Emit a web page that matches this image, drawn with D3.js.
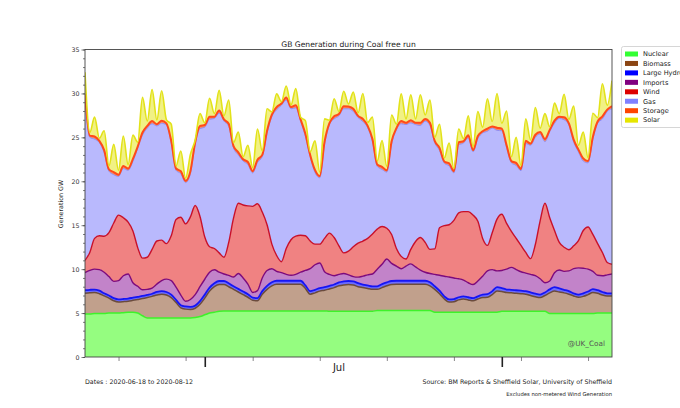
<!DOCTYPE html>
<html><head><meta charset="utf-8">
<script src="https://cdn.jsdelivr.net/npm/d3@7"></script>
<style>body{margin:0;background:#fff}svg{display:block}text{font-family:"DejaVu Sans",sans-serif;fill:#222}</style>
</head><body><svg id="c" width="680" height="408"></svg>
<script>
// ---- data: half-daily samples (12:00 and 00:00 UTC) starting 2020-06-18 12:00 ----
const startTime = "2020-06-18T12:00:00Z";
const stepHours = 12;
const seriesNames = ["Nuclear","Biomass","Large Hydro","Imports","Wind","Gas","Storage","Solar"];
const nuclear = [4.9,4.9,4.95,4.95,4.95,5.0,5.0,5.0,5.05,5.1,
5.1,5.0,4.7,4.45,4.45,4.45,4.45,4.45,4.45,4.45,
4.45,4.45,4.45,4.5,4.6,4.8,5.0,5.1,5.2,5.25,
5.25,5.25,5.25,5.25,5.25,5.25,5.25,5.25,5.25,5.25,
5.25,5.25,5.25,5.25,5.25,5.25,5.25,5.25,5.25,5.25,
5.25,5.2,5.2,5.2,5.2,5.2,5.2,5.2,5.2,5.2,
5.2,5.3,5.3,5.3,5.3,5.3,5.3,5.3,5.3,5.3,
5.3,5.3,5.3,5.1,5.1,5.1,5.1,5.1,5.1,5.1,
5.1,5.1,5.1,5.1,5.1,5.1,5.1,5.2,5.2,5.2,
5.2,5.2,5.2,5.2,5.2,5.2,5.2,4.95,4.95,4.95,
4.95,4.95,4.95,4.95,4.95,4.95,4.95,5.0,5.0,5.0,
5.0];
const biomass = [2.35,2.4,2.38,2.25,2.0,1.7,1.4,1.27,1.25,1.25,
1.35,1.55,1.95,2.32,2.45,2.6,2.7,2.6,2.3,1.75,
1.15,1.0,0.95,1.05,1.4,1.9,2.5,2.9,3.05,3.0,
2.75,2.45,2.15,1.85,1.55,1.2,1.15,1.9,2.45,2.85,
3.03,3.03,3.03,3.03,3.03,3.03,2.55,1.9,2.05,2.25,
2.35,2.55,2.7,2.9,3.0,3.05,3.0,2.8,2.7,2.6,
2.5,2.4,2.6,2.8,2.95,2.98,2.98,2.98,2.98,2.98,
2.98,2.98,2.8,2.6,2.1,1.5,1.15,1.2,1.4,1.5,
1.4,1.3,1.5,1.66,1.7,2.0,2.4,2.25,2.13,2.1,
2.05,2.0,1.95,1.8,1.65,1.56,1.8,2.35,2.55,2.45,
2.35,2.2,2.0,1.85,1.95,2.15,2.38,2.25,2.05,1.95,
1.95];
const hydro = [0.35,0.35,0.35,0.35,0.3,0.3,0.3,0.3,0.3,0.3,
0.3,0.3,0.3,0.3,0.3,0.35,0.35,0.35,0.35,0.3,
0.3,0.3,0.3,0.3,0.35,0.4,0.4,0.4,0.4,0.4,
0.4,0.35,0.35,0.35,0.35,0.3,0.3,0.35,0.4,0.4,
0.4,0.4,0.4,0.4,0.4,0.4,0.35,0.35,0.35,0.35,
0.35,0.35,0.35,0.4,0.4,0.4,0.4,0.4,0.35,0.35,
0.35,0.35,0.4,0.4,0.4,0.4,0.4,0.4,0.4,0.4,
0.4,0.4,0.4,0.35,0.35,0.3,0.3,0.3,0.3,0.3,
0.3,0.3,0.3,0.35,0.35,0.4,0.45,0.4,0.35,0.35,
0.35,0.35,0.35,0.35,0.35,0.35,0.35,0.4,0.45,0.4,
0.35,0.35,0.3,0.3,0.35,0.35,0.4,0.35,0.35,0.3,
0.3];
const imports = [2.0,2.2,2.32,2.4,2.4,2.15,1.91,2.13,2.65,2.8,
1.7,1.2,0.7,0.63,0.65,0.9,1.2,1.46,1.6,1.45,
1.15,0.6,0.85,1.25,1.65,1.75,1.75,1.53,1.0,0.8,
0.89,1.05,1.75,1.55,1.15,0.6,0.85,1.5,1.75,1.55,
1.07,0.92,0.72,0.62,0.72,0.97,1.7,2.55,2.85,2.85,
1.75,1.3,1.0,0.9,0.9,0.7,0.55,0.69,0.95,1.2,
1.4,1.95,2.25,2.65,2.0,1.67,1.37,1.67,1.92,1.57,
1.22,0.97,1.0,1.35,1.75,2.29,2.55,2.39,2.1,1.85,
1.65,1.55,1.75,2.09,2.65,2.45,1.85,2.0,2.32,2.55,
2.35,2.15,2.05,2.05,2.05,1.79,1.1,0.95,1.65,2.1,
2.1,2.3,2.8,3.05,2.85,2.55,2.02,1.7,1.85,2.1,
2.2];
const wind = [1.4,2.05,3.5,3.85,4.1,5.0,6.64,7.45,6.6,5.9,
5.9,4.4,3.6,3.65,4.4,4.9,4.6,4.04,5.1,7.7,
8.85,8.8,9.4,10.15,8.0,4.8,2.9,2.42,2.2,1.9,
3.76,6.7,8.0,8.3,8.9,9.8,9.9,7.5,5.2,2.8,
1.8,1.25,2.95,4.05,4.35,4.2,3.95,3.15,2.35,2.15,
3.8,4.7,4.35,3.25,2.35,2.7,3.4,3.86,4.0,4.15,
4.55,4.55,4.3,3.5,3.3,2.0,1.4,0.8,1.65,2.9,
3.7,3.4,2.75,2.9,5.4,5.76,5.95,6.56,7.5,7.8,
8.1,7.9,6.8,4.3,2.9,4.2,5.9,6.4,5.2,4.1,
3.55,3.0,2.35,1.8,3.55,6.6,9.05,7.2,4.8,3.15,
2.75,2.4,2.6,3.1,4.3,4.8,4.2,3.6,2.65,1.4,
1.1];
const gas = [18.6,13.1,11.3,10.6,9.5,7.0,5.5,4.4,5.6,5.9,
7.9,11.3,14.0,14.7,14.3,13.1,13.3,13.5,10.5,5.6,
4.95,4.7,4.9,7.0,10.0,12.5,14.5,14.8,15.9,15.5,
13.2,8.0,5.5,5.0,4.7,3.8,4.7,6.3,10.4,14.5,
16.6,17.8,16.9,14.9,14.6,13.0,11.3,9.6,8.15,7.55,
10.7,12.3,13.5,14.8,16.4,16.2,15.4,14.3,13.6,12.6,
10.5,7.15,6.5,6.4,10.3,13.5,15.1,15.3,14.4,13.3,
12.75,13.8,14.1,12.1,8.8,7.1,6.7,5.4,7.75,7.8,
8.4,7.2,9.4,12.0,13.0,11.9,10.1,9.5,8.6,7.8,
8.3,8.5,12.4,12.9,12.2,9.9,7.0,9.8,12.2,14.1,
14.5,14.2,11.8,10.1,7.9,7.3,10.8,13.7,15.2,17.2,
17.7];
const storage = [0.3,0.2,0.3,0.2,0.3,0.2,0.3,0.2,0.3,0.2,
0.3,0.2,0.3,0.25,0.3,0.2,0.3,0.2,0.3,0.2,
0.3,0.2,0.3,0.2,0.3,0.25,0.3,0.2,0.3,0.2,
0.3,0.2,0.3,0.2,0.3,0.2,0.3,0.2,0.3,0.25,
0.3,0.2,0.3,0.2,0.3,0.2,0.3,0.2,0.3,0.2,
0.3,0.2,0.3,0.2,0.3,0.25,0.3,0.2,0.3,0.2,
0.3,0.2,0.3,0.2,0.3,0.2,0.3,0.2,0.3,0.2,
0.3,0.25,0.3,0.2,0.3,0.2,0.3,0.2,0.3,0.2,
0.3,0.2,0.3,0.2,0.3,0.2,0.3,0.25,0.3,0.2,
0.3,0.2,0.3,0.2,0.3,0.2,0.3,0.2,0.3,0.2,
0.3,0.2,0.3,0.25,0.3,0.2,0.3,0.2,0.3,0.2,
0.3];
const solar = [2.5,0.35,2.2,0.3,2.2,0.4,3.15,0.5,3.4,0.45,
2.7,0.5,4.0,0.55,3.6,0.5,3.4,0.4,1.9,0.3,
2.3,0.3,1.9,0.25,1.4,0.25,2.1,0.35,2.3,0.4,
2.7,0.4,2.3,0.3,1.9,0.4,3.5,0.45,2.5,0.3,
1.5,0.2,1.3,0.25,1.9,0.25,1.5,0.35,3.3,0.45,
2.6,0.35,2.0,0.3,1.7,0.3,1.9,0.35,2.9,0.4,
2.5,0.4,3.0,0.45,3.0,0.45,3.1,0.45,2.9,0.45,
3.2,0.45,2.6,0.4,2.7,0.4,2.3,0.3,1.5,0.3,
2.2,0.4,2.8,0.45,3.4,0.55,3.9,0.6,3.9,0.5,
2.9,0.4,2.5,0.4,3.1,0.45,2.9,0.35,2.0,0.35,
2.6,0.45,3.8,0.5,3.0,0.4,2.7,0.45,3.7,0.5,
2.9];
const yTickLabels = [0,5,10,15,20,25,30,35];
const monthLabels = [{date:"2020-07-15T00:00:00Z", label:"Jul"}];
const fillColors = ["#95fd80","#c1a08c","#6d6dfd","#c283c9","#f08282","#b9b9fd","#ff8a5c","#f1f184"];
const lineColors = ["#3ef22a","#6b4b3c","#1515f5","#7d0a7d","#c8102a","#8c8cf5","#ff4a1a","#e2e21a"];
const legendColors = ["#33ff33","#8b4513","#0000ff","#800080","#dd0000","#8080ff","#ff4500","#e6e600"];
const lineWidths = [1.5,1.5,1.8,1.4,1.4,1.0,2.0,1.6];

const cols = [nuclear,biomass,hydro,imports,wind,gas,storage,solar];
const n = d3.min(cols, c => c.length);
const t0 = new Date(startTime);
const rows = d3.range(n).map(i => {
  const r = {time: d3.utcHour.offset(t0, i*stepHours)};
  seriesNames.forEach((k,j) => r[k] = cols[j][i]);
  return r;
});

const svg = d3.select("#c");
const L=85, R=612, T=49.5, B=357;
const x = d3.scaleUtc().domain([rows[0].time, rows[n-1].time]).range([L,R]);
const y = d3.scaleLinear().domain([0,35]).range([B,T]);

const stacked = d3.stack().keys(seriesNames)(rows);
const area = d3.area().curve(d3.curveMonotoneX)
  .x(d => x(d.data.time)).y0(d => y(d[0])).y1(d => y(d[1]));
const line = d3.line().curve(d3.curveMonotoneX)
  .x(d => x(d.data.time)).y(d => y(d[1]));

svg.append("defs").append("clipPath").attr("id","pc")
  .append("rect").attr("x",L).attr("y",T).attr("width",R-L).attr("height",B-T);
const g = svg.append("g").attr("clip-path","url(#pc)");
stacked.forEach((s,j) => {
  g.append("path").attr("d", area(s)).attr("fill", fillColors[j]);
});
stacked.forEach((s,j) => {
  g.append("path").attr("d", line(s)).attr("fill","none")
   .attr("stroke", lineColors[j]).attr("stroke-width", lineWidths[j]).attr("stroke-linejoin","round");
});

// frame
svg.append("rect").attr("x",L).attr("y",T).attr("width",R-L).attr("height",B-T)
  .attr("fill","none").attr("stroke","#444").attr("stroke-width",0.9);

// y axis
const yAx = svg.append("g").attr("transform",`translate(${L},0)`)
  .call(d3.axisLeft(y).tickValues(yTickLabels).tickSize(3.5).tickPadding(2));
const yMinor = svg.append("g").attr("transform",`translate(${L},0)`)
  .call(d3.axisLeft(y).tickValues(d3.range(0,36,1)).tickSize(2).tickFormat(""));
[yAx,yMinor].forEach(a => { a.select(".domain").remove(); a.selectAll("line").attr("stroke","#444").attr("stroke-width",0.7); });
yAx.selectAll("text").attr("font-size",6.3).attr("font-family","DejaVu Sans").style("fill","#333");

// x axis
const xMinor = svg.append("g").attr("transform",`translate(0,${B})`)
  .call(d3.axisBottom(x).tickValues(d3.utcMonday.range(rows[0].time, rows[n-1].time)).tickSize(4).tickFormat(""));
const xMajor = svg.append("g").attr("transform",`translate(0,${B})`)
  .call(d3.axisBottom(x).tickValues(d3.utcMonth.range(rows[0].time, rows[n-1].time)).tickSize(10).tickFormat(""));
xMinor.select(".domain").remove(); xMajor.select(".domain").remove();
xMinor.selectAll("line").attr("stroke","#555").attr("stroke-width",0.7);
xMajor.selectAll("line").attr("stroke","#222").attr("stroke-width",1.6);
monthLabels.forEach(m => {
  svg.append("text").attr("x", x(new Date(m.date))).attr("y",371).attr("text-anchor","middle")
    .attr("font-size",10).text(m.label);
});

// titles and notes
svg.append("text").attr("x",(L+R)/2).attr("y",46.5).attr("text-anchor","middle").attr("font-size",7.6)
  .text("GB Generation during Coal free run");
svg.append("text").attr("transform","translate(63,204) rotate(-90)").attr("text-anchor","middle")
  .attr("font-size",6.3).style("fill","#222").text("Generation GW");
svg.append("text").attr("x",L).attr("y",384).attr("font-size",6.3).text("Dates : 2020-06-18 to 2020-08-12");
svg.append("text").attr("x",R).attr("y",384).attr("text-anchor","end").attr("font-size",6.3)
  .text("Source: BM Reports & Sheffield Solar, University of Sheffield");
svg.append("text").attr("x",R).attr("y",395.5).attr("text-anchor","end").attr("font-size",5.3)
  .text("Excludes non-metered Wind Generation");
svg.append("text").attr("x",605).attr("y",346).attr("text-anchor","end").attr("font-size",7.3)
  .style("fill","#555").text("@UK_Coal");

// legend (box runs past the right edge, as in the original)
const lg = svg.append("g");
lg.append("rect").attr("x",621.5).attr("y",46.5).attr("width",70).attr("height",81).attr("rx",2)
  .attr("fill","#fff").attr("stroke","#ccc").attr("stroke-width",0.8);
seriesNames.forEach((k,j) => {
  const cy = 54 + j*9.45;
  lg.append("rect").attr("x",625).attr("y",cy-2.5).attr("width",13).attr("height",5).attr("fill",legendColors[j]);
  lg.append("text").attr("x",643).attr("y",cy+2.3).attr("font-size",6.6).text(k);
});
</script></body></html>
